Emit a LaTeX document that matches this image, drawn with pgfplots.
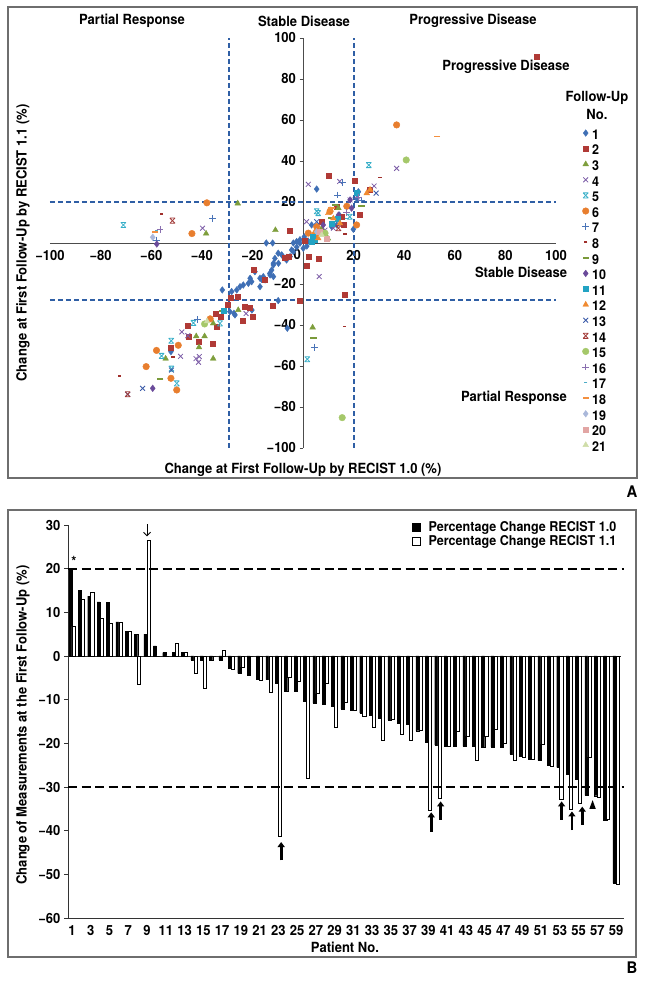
\documentclass[border=0pt]{standalone}
\usepackage{fontspec}
\setmainfont{TeX Gyre Heros}[FakeStretch=0.93]
\usepackage{pgfplots}
\pgfplotsset{compat=1.18}
\usetikzlibrary{arrows.meta}

\definecolor{c1}{HTML}{3F6FB5}
\definecolor{c2}{HTML}{B03A36}
\definecolor{c3}{HTML}{7E9E3C}
\definecolor{c4}{HTML}{7B5BA6}
\definecolor{c5}{HTML}{38AFC8}
\definecolor{c6}{HTML}{E87E2E}
\definecolor{c7}{HTML}{4A74B8}
\definecolor{c8}{HTML}{A0302C}
\definecolor{c9}{HTML}{7A9A3A}
\definecolor{c10}{HTML}{6A4A9A}
\definecolor{c11}{HTML}{22A3C3}
\definecolor{c12}{HTML}{F08A30}
\definecolor{c13}{HTML}{3A5AA8}
\definecolor{c14}{HTML}{A23A38}
\definecolor{c15}{HTML}{A5C86A}
\definecolor{c16}{HTML}{8A70B0}
\definecolor{c17}{HTML}{4BACC6}
\definecolor{c18}{HTML}{F39040}
\definecolor{c19}{HTML}{AAB8DA}
\definecolor{c20}{HTML}{E2A6A4}
\definecolor{c21}{HTML}{CFDDA8}
\definecolor{dashblue}{HTML}{2F5FA5}
\definecolor{framegray}{HTML}{6E6E6E}

\pgfdeclareplotmark{xstar}{%
  \pgfpathmoveto{\pgfqpoint{-.75\pgfplotmarksize}{-.75\pgfplotmarksize}}%
  \pgfpathlineto{\pgfqpoint{.75\pgfplotmarksize}{.75\pgfplotmarksize}}%
  \pgfpathmoveto{\pgfqpoint{-.75\pgfplotmarksize}{.75\pgfplotmarksize}}%
  \pgfpathlineto{\pgfqpoint{.75\pgfplotmarksize}{-.75\pgfplotmarksize}}%
  \pgfpathmoveto{\pgfqpoint{-.75\pgfplotmarksize}{.75\pgfplotmarksize}}%
  \pgfpathlineto{\pgfqpoint{.75\pgfplotmarksize}{.75\pgfplotmarksize}}%
  \pgfpathmoveto{\pgfqpoint{-.75\pgfplotmarksize}{-.75\pgfplotmarksize}}%
  \pgfpathlineto{\pgfqpoint{.75\pgfplotmarksize}{-.75\pgfplotmarksize}}%
  \pgfusepathqstroke}

\newcommand{\tf}{\fontsize{14}{16}\selectfont\bfseries}
\newcommand{\lf}{\fontsize{13.5}{15}\selectfont\bfseries}

\begin{document}
\begin{tikzpicture}[x=1pt,y=1pt]
\useasboundingbox (0,0) rectangle (645,983);
% panel frames
\draw[framegray, line width=1.1pt] (8,505) rectangle (637,976);
\draw[framegray, line width=1.1pt] (8,26) rectangle (636,473);
\node[font=\fontsize{16}{18}\selectfont\bfseries] at (632,491) {A};
\node[font=\fontsize{16}{18}\selectfont\bfseries] at (632,15) {B};

% ================= Panel A =================
\begin{axis}[
  at={(50pt,535pt)}, anchor=south west, scale only axis,
  width=506pt, height=410pt,
  xmin=-100, xmax=100, ymin=-100, ymax=100,
  axis lines=middle, axis line style={-, draw=black!70, line width=0.8pt},
  clip=false,
  xtick={-100,-80,-60,-40,-20,20,40,60,80,100},
  xticklabels={−100,−80,−60,−40,−20,20,40,60,80,100},
  ytick={-100,-80,-60,-40,-20,20,40,60,80,100},
  yticklabels={−100,−80,−60,−40,−20,20,40,60,80,100},
  tick label style={font=\tf},
  xtick style={draw=none},
  ytick style={draw=black!70, line width=0.8pt},
  tick align=outside, major tick length=3.5pt,
  legend style={at={(axis cs:110.4,55.5)}, anchor=north west, draw=none, fill=none,
    inner sep=0pt, outer sep=0pt, row sep=0pt, column sep=3pt,
    font=\lf, nodes={inner sep=0pt, text height=10pt, text depth=5.6pt}},
  legend cell align=left,
  legend image code/.code={\draw[#1] plot coordinates {(0pt,4pt)};},
]
% reference dashed lines
\addplot[forget plot, dashblue, line width=1.8pt, dash pattern=on 5pt off 3pt] coordinates {(-29.4,-100) (-29.4,100)};
\addplot[forget plot, dashblue, line width=1.8pt, dash pattern=on 5pt off 3pt] coordinates {(20,-100) (20,100)};
\addplot[forget plot, dashblue, line width=1.8pt, dash pattern=on 5pt off 3pt] coordinates {(-100,20) (100,20)};
\addplot[forget plot, dashblue, line width=1.8pt, dash pattern=on 5pt off 3pt] coordinates {(-100,-28) (100,-28)};

% 1 blue diamond
\addplot[only marks, mark=diamond*, mark size=3.3pt, c1, mark options={draw=c1}] coordinates {
(5.4,26.3) (21.9,25) (21.3,21.6) (19.9,6.7) (14.4,13.6) (13.3,8.8) (11.3,8.0) (3.4,8.8)
(-14.5,0) (-12,0) (-3.8,0) (-1.2,1.6) (-1.2,-0.1) (-2.5,0.7) (0.1,-2.6) (1.5,-1.5) (2,1)
(-2.5,-2) (-3.8,-4.2) (-4.5,-3.4) (-5.1,-6.6) (-6.4,-7) (-6.5,-8.3) (-7.1,-7.4) (-8.4,-5.8)
(-9.8,-5.0) (-9.7,-9.9) (-11.1,-7.5) (-11.7,-9.9) (-11.7,-10.7) (-12.4,-13.2) (-13.1,-14.8)
(-13,-15.6) (-11.7,-16.4) (-15,-18) (-15.7,-16.4) (-16.4,-17.7) (-17,-17.2) (-17,-21.3)
(-19,-14.0) (-20.3,-18.9) (-20.9,-17.2) (-21.6,-19.7) (-23.6,-20.5) (-24.9,-21.3)
(-26.2,-22.9) (-28.2,-23.7) (-31.9,-22.9) (-9.8,-28.1) (-6.2,-41.6) (-26.9,-35.1)
(-28.9,-33.5) (-27.3,-34.3) (-20.2,-32.7) (-52.2,-53) (0.5,3)};
\addlegendentry{1}
% 2 red square
\addplot[only marks, mark=square*, mark size=2.5pt, c2] coordinates {
(92.2,90.9) (10.1,32.7) (20.3,30.4) (26.2,26.2) (22.3,14) (13.3,17.7) (15.9,8.8) (15.2,12.8)
(7.4,10.4) (-5.4,5.8) (0.8,1.3) (2.1,-6.6) (6.2,-7.6) (1.3,-11.3) (16.6,-25.4) (-1.2,-28.3)
(-19.6,-13.2) (-15,-18) (-7.1,-7) (-5.8,-6.7) (-11.8,-30.4) (-28.7,-26.5) (-25.9,-26.3)
(-23.1,-31.2) (-21.1,-31.4) (-23.9,-37.8) (-20,-36) (-29.8,-30) (-34.5,-34.7) (-34.2,-40.9)
(-32.5,-36.1) (-41.1,-48.3) (-35.6,-49.3) (-45.5,-40.2) (-45.2,-45.5) (-52.3,-51.2)};
\addlegendentry{2}
% 3 green triangle
\addplot[only marks, mark=triangle*, mark size=3.3pt, c3] coordinates {
(-25.8,19.3) (-38.3,4.6) (-10.9,6.3) (3.8,-41.2) (9.6,2.0) (7.4,7.2) (14,17) (9.8,2.3)
(-25.6,-32.7) (-35.5,-39.2) (-42.2,-45.5) (-38.9,-45.5) (-41.1,-50.9) (-35.5,-56.4) (-54.3,-56.4)};
\addlegendentry{3}
% 4 purple x
\addplot[only marks, mark=x, mark size=3.4pt, line width=0.8pt, c4] coordinates {
(2.1,28.6) (14.5,30) (37,36.4) (28.1,27.8) (-39.7,7.2) (6.4,-16.4) (1.4,10.4) (8.7,6.3)
(5.4,7.2) (12,7.2) (18.6,21) (-22.5,-34.4) (-47.9,-43.4) (-45.5,-45.2) (-48.4,-55.3)
(-42.3,-56.4) (-41.3,-58.2) (-41,-55.4)};
\addlegendentry{4}
% 5 cyan star
\addplot[only marks, mark=xstar, mark size=3.4pt, line width=0.8pt, c5] coordinates {
(-71,8.8) (26,38) (18.5,12.8) (5.4,15.5) (6,14.6) (1.7,-56.7) (-32.8,-39.2) (-43.3,-39.0)
(-52.1,-47.7) (-55.9,-55.1) (-52,-61.3) (-49.9,-68.5)};
\addlegendentry{5}
% 6 orange circle
\addplot[only marks, mark=*, mark size=3.3pt, c6] coordinates {
(37,57.6) (-38,19.6) (-43.9,4.6) (10.7,15.5) (17.3,17.9) (2.1,4.8) (21.2,8.8) (5.4,8.0)
(4.7,3.9) (-36.7,-37.0) (-49.3,-49.9) (-57.9,-52.4) (-62,-60.3) (-52.2,-66) (-49.9,-71.7)};
\addlegendentry{6}
% 7 blue plus
\addplot[only marks, mark=+, mark size=3.4pt, line width=0.8pt, c7] coordinates {
(15.5,29.5) (13.6,23.4) (23.2,21) (-35.8,12) (-57.8,1.5) (4.5,-50.8) (-41.7,-37.4)};
\addlegendentry{7}
% 8 red short dash
\addplot[only marks, mark=-, mark size=1.6pt, line width=1.6pt, c8] coordinates {
(30.4,32) (16.6,4.4) (16.3,-40.8) (-55.9,14.1) (-72.6,-64.9) (-51.4,-55.6)};
\addlegendentry{8}
% 9 green long dash
\addplot[only marks, mark=-, mark size=3.2pt, line width=1.8pt, c9] coordinates {
(23.2,18) (12.6,18.7) (11.3,12) (4.1,-46.5) (-56.5,-66.5) (-32,-33)};
\addlegendentry{9}
% 10 purple diamond
\addplot[only marks, mark=diamond*, mark size=3.3pt, c10] coordinates {
(18.6,21) (14,13.6) (8,8.8) (19.2,17) (-57.8,-0.5) (-59.4,-70.9)};
\addlegendentry{10}
% 11 cyan square
\addplot[only marks, mark=square*, mark size=2.5pt, c11] coordinates {
(21.2,24.3) (4,3.1) (4.7,1.5) (3.4,0.8) (11.3,9.6) (13.6,12) (-31.5,-33.2)};
\addlegendentry{11}
% 12 orange triangle
\addplot[only marks, mark=triangle*, mark size=3.3pt, c12] coordinates {
(26.5,26) (25.2,24.3) (10,14.6) (10.7,16.1) (4.7,5.5) (6,2.3) (14.6,9.6) (12,12)};
\addlegendentry{12}
% 13 blue x
\addplot[only marks, mark=x, mark size=3.4pt, line width=0.8pt, c13] coordinates {
(28.9,24.3) (-63.4,-70.9) (5.4,10.4) (-52,-62) (-69.3,-73.8)};
\addlegendentry{13}
% 14 red star
\addplot[only marks, mark=xstar, mark size=3.4pt, line width=0.8pt, c14] coordinates {
(-51.6,10.9) (14,7.2) (-69.3,-73.8)};
\addlegendentry{14}
% 15 light green circle
\addplot[only marks, mark=*, mark size=3.3pt, c15] coordinates {
(40.8,40.5) (15.5,-85.2) (-38.9,-39.5) (8.7,4.8)};
\addlegendentry{15}
% 16 purple plus
\addplot[only marks, mark=+, mark size=3.4pt, line width=0.8pt, c16] coordinates {
(-56.5,6.5) (17.3,15) (22,22)};
\addlegendentry{16}
% 17 cyan short dash
\addplot[only marks, mark=-, mark size=1.6pt, line width=1.6pt, c17] coordinates {
(17.3,12) (-58,5.8)};
\addlegendentry{17}
% 18 orange long dash
\addplot[only marks, mark=-, mark size=3.2pt, line width=1.8pt, c18] coordinates {
(52.9,51.9) (-58.5,5.5) (11.3,16.9)};
\addlegendentry{18}
% 19 light blue diamond
\addplot[only marks, mark=diamond*, mark size=3.3pt, c19] coordinates {
(-59.4,2.8) (5.4,5.5)};
\addlegendentry{19}
% 20 pink square
\addplot[only marks, mark=square*, mark size=2.5pt, c20] coordinates {
(9.3,2.3) (6.7,5.5)};
\addlegendentry{20}
% 21 light green triangle
\addplot[only marks, mark=triangle*, mark size=3.3pt, c21] coordinates {
(7.4,3.9) (-37.9,-38.2)};
\addlegendentry{21}

\node[font=\tf, anchor=north east, inner sep=2pt] at (axis cs:0,-2) {0};
\end{axis}

% Panel A texts
\node[font=\tf] at (132,962) {Partial Response};
\node[font=\tf] at (304,962) {Stable Disease};
\node[font=\tf] at (473,962) {Progressive Disease};
\node[font=\tf] at (506,916) {Progressive Disease};
\node[font=\tf] at (521,711) {Stable Disease};
\node[font=\tf] at (514,585) {Partial Response};
\node[font=\tf] at (597,885) {Follow-Up};
\node[font=\tf] at (597,869) {No.};
\node[font=\tf, rotate=90] at (23,740) {Change at First Follow-Up by RECIST 1.1 (\%)};
\node[font=\tf] at (303,513) {Change at First Follow-Up by RECIST 1.0 (\%)};

% ================= Panel B =================
\begin{axis}[
  at={(68pt,65pt)}, anchor=south west, scale only axis,
  width=556pt, height=393pt,
  xmin=0.574, xmax=59.85, ymin=-60, ymax=30,
  axis x line=bottom, axis y line=left,
  axis line style={-, draw=black!80, line width=0.8pt},
  clip=false,
  /pgf/number format/assume math mode=true,
  xtick={1,3,...,59},
  ytick={-60,-50,...,30},
  yticklabels={−60,−50,−40,−30,−20,−10,0,10,20,30},
  tick label style={font=\tf},
  xtick style={draw=none},
  ytick style={draw=black!80, line width=0.8pt},
  tick align=outside, major tick length=4pt,
  xticklabel style={inner sep=1pt, yshift=-2pt},
]
\addplot[forget plot, black!85, line width=0.8pt] coordinates {(0.574,0) (59.5,0)};
\addplot[ybar, bar width=3.1pt, bar shift=-1.55pt, fill=black, draw=black, line width=0.3pt] coordinates {
(1,20.0) (2,15.0) (3,13.7) (4,12.4) (5,12.3) (6,7.8) (7,5.6) (8,5.0) (9,5.0) (10,2.3)
(11,0.8) (12,0.8) (13,0.8) (14,-0.9) (15,-0.9) (16,-0.9) (17,-0.9) (18,-2.8) (19,-4.0) (20,-4.3)
(21,-5.3) (22,-5.4) (23,-6.3) (24,-8.0) (25,-8.1) (26,-10.3) (27,-10.8) (28,-11.1) (29,-11.5) (30,-12.1)
(31,-12.4) (32,-13.1) (33,-13.6) (34,-14.3) (35,-14.6) (36,-15.3) (37,-15.6) (38,-17.1) (39,-19.7) (40,-20.4)
(41,-20.7) (42,-20.6) (43,-20.7) (44,-20.7) (45,-20.8) (46,-20.8) (47,-20.8) (48,-22.5) (49,-23.0) (50,-23.6)
(51,-23.9) (52,-25.1) (53,-25.5) (54,-27.0) (55,-28.2) (56,-31.9) (57,-32.0) (58,-37.6) (59,-52.0)};
\addplot[ybar, bar width=3.1pt, bar shift=1.55pt, fill=white, draw=black, line width=0.6pt] coordinates {
(1,6.8) (2,13.0) (3,14.6) (4,8.6) (5,7.5) (6,7.8) (7,5.7) (8,-6.5) (9,26.5) (10,0)
(11,0) (12,2.8) (13,0.8) (14,-3.9) (15,-7.3) (16,0) (17,1.4) (18,-3.1) (19,-2.5) (20,0)
(21,-5.5) (22,-8.4) (23,-41.2) (24,-4.8) (25,-5.7) (26,-28.1) (27,-8.6) (28,-6.3) (29,-16.3) (30,-10.5)
(31,-12.4) (32,-13.8) (33,-16.3) (34,-19.3) (35,-14.6) (36,-18.0) (37,-19.2) (38,-17.1) (39,-35.3) (40,-32.7)
(41,-20.7) (42,-17.2) (43,-18.3) (44,-24.0) (45,-18.5) (46,-16.9) (47,-20.1) (48,-23.9) (49,-23.1) (50,-23.6)
(51,-20.2) (52,-25.3) (53,-32.8) (54,-35.1) (55,-33.7) (56,-23.1) (57,-32.3) (58,-37.4) (59,-52.2)};
\addplot[forget plot, black, line width=1.7pt, dash pattern=on 9pt off 4.5pt] coordinates {(0.574,20) (59.85,20)};
\addplot[forget plot, black, line width=1.7pt, dash pattern=on 9pt off 4.5pt] coordinates {(0.574,-30) (59.85,-30)};
% annotations
\node[font=\tf] at (axis cs:1.2,21.6) {*};
\draw[black, line width=0.9pt, -{Straight Barb[length=3.5pt,width=7pt]}] (axis cs:9,30.2) -- (axis cs:9,27.4);
\draw[black, line width=2.8pt, -{Triangle[length=5pt,width=7pt]}] (axis cs:23.3,-46.8) -- (axis cs:23.3,-42.6);
\draw[black, line width=2.8pt, -{Triangle[length=5pt,width=7pt]}] (axis cs:39.3,-40.2) -- (axis cs:39.3,-35.8);
\draw[black, line width=2.8pt, -{Triangle[length=5pt,width=7pt]}] (axis cs:40.3,-37.5) -- (axis cs:40.3,-33.3);
\draw[black, line width=2.8pt, -{Triangle[length=5pt,width=7pt]}] (axis cs:53.2,-37.5) -- (axis cs:53.2,-33.3);
\draw[black, line width=2.8pt, -{Triangle[length=5pt,width=7pt]}] (axis cs:54.3,-39.9) -- (axis cs:54.3,-35.6);
\draw[black, line width=2.8pt, -{Triangle[length=5pt,width=7pt]}] (axis cs:55.4,-38.7) -- (axis cs:55.4,-34.5);
\fill[black] (axis cs:56.5,-33.0) -- (axis cs:56.16,-35.0) -- (axis cs:56.84,-35.0) -- cycle;
\end{axis}
% legend B
\fill[black] (412,451) rectangle (421,460);
\draw[black, line width=0.7pt] (412.35,437.35) rectangle (420.65,445.65);
\node[font=\lf, anchor=west] at (425,455.5) {Percentage Change RECIST 1.0};
\node[font=\lf, anchor=west] at (425,441.5) {Percentage Change RECIST 1.1};
\node[font=\tf] at (345,36) {Patient No.};
\node[font=\tf, rotate=90] at (23,258) {Change of Measurements at the First Follow-Up (\%)};
\end{tikzpicture}
\end{document}
